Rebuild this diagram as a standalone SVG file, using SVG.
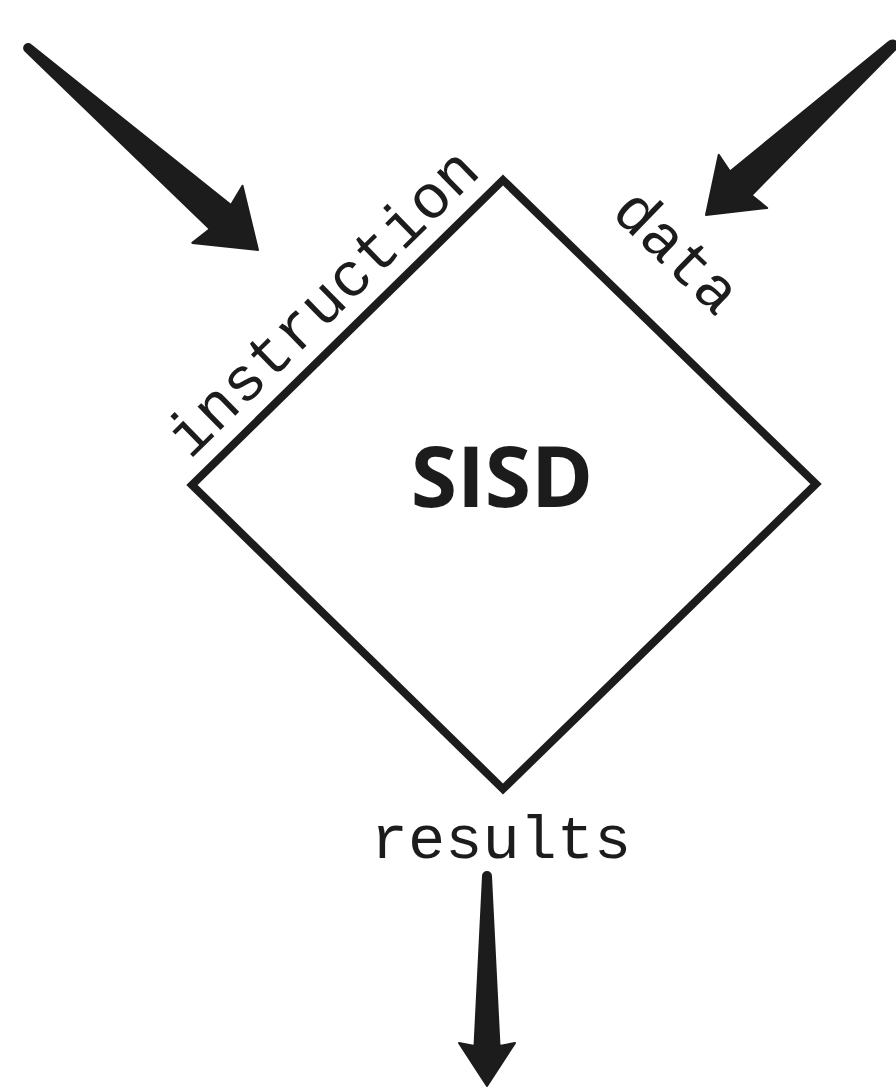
<svg xmlns="http://www.w3.org/2000/svg" width="896" height="1089" viewBox="0 0 896 1089">
  <style>
    .mono { font-family: "Liberation Mono", "DejaVu Sans Mono", monospace; font-size: 62px; fill: #1c1c1c; }
    .title { font-family: "Open Sans", "Noto Sans", sans-serif; font-weight: 700; font-size: 84px; fill: #1c1c1c; }
    .shape { fill: #ffffff; stroke: #1c1c1c; stroke-width: 8; stroke-linejoin: miter; }
    .arrow { fill: #1c1c1c; stroke: #1c1c1c; stroke-width: 2; stroke-linejoin: round; }
  </style>
  <rect width="896" height="1089" fill="#ffffff"/>
  <g id="sisd">
    <polygon class="shape" points="503,180 816,484 503,789 192,485"/>
    <text class="title" x="502" y="507" text-anchor="middle">SISD</text>
  </g>
  <g id="connectors">
    <g id="instruction-in">
      <path class="arrow" transform="translate(258,250) rotate(41.3)" d="M0,0 L-54,-38 L-50,-16 L-306,-4 A4,4 0 0 0 -306,4 L-50,16 L-54,38 Z"/>
      <text class="mono" transform="translate(190,460) rotate(-44.4)">instruction</text>
    </g>
    <g id="data-in">
      <path class="arrow" transform="translate(706,215) rotate(137.7)" d="M0,0 L-50,-36 L-47,-16 L-252,-5 A5,5 0 0 0 -252,5 L-47,16 L-50,36 Z"/>
      <text class="mono" transform="translate(610,214) rotate(44.2)">data</text>
    </g>
    <g id="results-out">
      <text class="mono" x="501" y="858" text-anchor="middle">results</text>
      <path class="arrow" transform="translate(487,1086) rotate(90)" d="M0,0 L-43,-28 L-40,-12.5 L-210,-4 A4,4 0 0 0 -210,4 L-40,12.5 L-43,28 Z"/>
    </g>
  </g>
</svg>
